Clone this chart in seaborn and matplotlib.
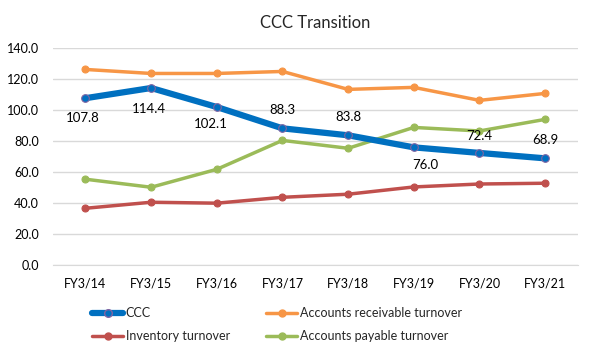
import pandas as pd
import numpy as np
import matplotlib
matplotlib.use("Agg")
import matplotlib.pyplot as plt
import seaborn as sns
from matplotlib.lines import Line2D

years = ['FY3/14', 'FY3/15', 'FY3/16', 'FY3/17', 'FY3/18', 'FY3/19', 'FY3/20', 'FY3/21']
ccc = [107.8, 114.4, 102.1, 88.3, 83.8, 76.0, 72.4, 68.9]
receivable = [126.4, 123.8, 123.8, 125.1, 113.5, 114.8, 106.4, 110.9]
inventory = [36.6, 40.5, 39.9, 43.7, 45.7, 50.4, 52.3, 52.8]
payable = [55.4, 50.2, 61.8, 80.5, 75.4, 88.9, 86.6, 94.1]

# label offsets in pixels (dx, dy) for ccc data labels
lbl_off = [(-3, -20), (-2, -21), (-6, -17), (0, 18), (0, 18), (12, -18), (0, 17), (0, 18)]

sns.set_style("white")
plt.rcParams['font.family'] = ['Lato', 'DejaVu Sans']

fig = plt.figure(figsize=(5.91, 3.56), dpi=100)
ax = fig.add_axes([0.089, 0.256, 0.889, 0.608])

df = pd.DataFrame({'year': years, 'CCC': ccc,
                   'Accounts receivable turnover': receivable,
                   'Inventory turnover': inventory,
                   'Accounts payable turnover': payable})

series = [('Accounts receivable turnover', '#F79646', 2.5, '#F79646'),
          ('Inventory turnover', '#C0504D', 2.5, '#C0504D'),
          ('Accounts payable turnover', '#9BBB59', 2.5, '#9BBB59'),
          ('CCC', '#0070C0', 4.5, '#8064A2')]

for name, col, lw, mec in series:
    sns.lineplot(data=df, x='year', y=name, ax=ax, color=col, lw=lw, sort=False,
                 marker='o', markersize=5 if name != 'CCC' else 5.5,
                 markerfacecolor=col, markeredgecolor=mec, markeredgewidth=0.8,
                 zorder=3 if name == 'CCC' else 2)

for i, v in enumerate(ccc):
    dx, dy = lbl_off[i]
    ax.annotate(f'{v:.1f}', (i, v), xytext=(dx, dy), textcoords='offset pixels',
                ha='center', va='center', fontsize=9.5, color='#000000', zorder=4)

ax.set_xlim(-0.5, len(years) - 0.5)
ax.set_ylim(0, 140)
ax.set_yticks(np.arange(0, 141, 20))
ax.set_yticklabels([f'{t:.1f}' for t in np.arange(0, 141, 20)])
ax.set_xlabel('')
ax.set_ylabel('')
ax.grid(True, axis='y', color='#D9D9D9', lw=1)
ax.grid(False, axis='x')
for s in ['top', 'right', 'left']:
    ax.spines[s].set_visible(False)
ax.spines['bottom'].set_color('#D9D9D9')
ax.tick_params(axis='both', length=0, labelsize=9, colors='#000000')
ax.tick_params(axis='y', pad=10)
ax.tick_params(axis='x', pad=9)

ax.set_title('CCC Transition', fontsize=12, pad=15)

handles = [Line2D([], [], color='#0070C0', lw=4.5, marker='o', markersize=5.5,
                  markerfacecolor='#0070C0', markeredgecolor='#8064A2'),
           Line2D([], [], color='#C0504D', lw=2.5, marker='o', markersize=5),
           Line2D([], [], color='#F79646', lw=2.5, marker='o', markersize=5),
           Line2D([], [], color='#9BBB59', lw=2.5, marker='o', markersize=5)]
labels = ['CCC', 'Inventory turnover', 'Accounts receivable turnover', 'Accounts payable turnover']
fig.legend(handles, labels, ncol=2, loc='center left', bbox_to_anchor=(0.145, 0.088),
           frameon=False, fontsize=9, handlelength=2.5, handletextpad=0.2,
           columnspacing=2.9, labelspacing=0.85, borderpad=0)

plt.savefig('out.png', dpi=100)
